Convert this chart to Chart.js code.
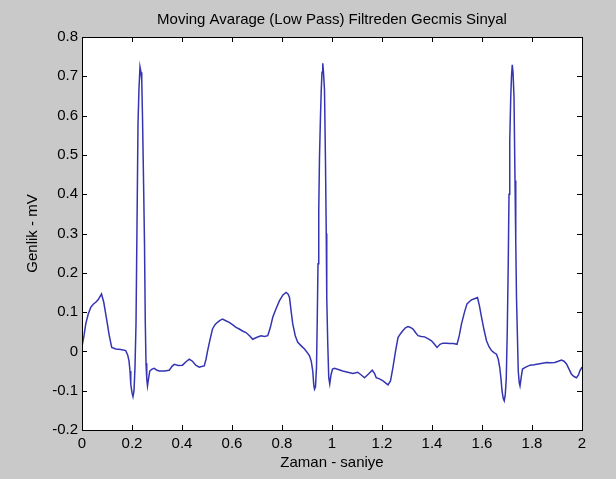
<!DOCTYPE html>
<html lang="tr">
<head>
    <meta charset="UTF-8">
    <title>Moving Avarage (Low Pass) Filtreden Gecmis Sinyal</title>
    <style>
        html, body {
            margin: 0;
            padding: 0;
            background: #c9c9c9;
        }
        #wrap {
            width: 616px;
            height: 479px;
            position: relative;
        }
    </style>
    <script src="https://cdn.jsdelivr.net/npm/chart.js"></script>
</head>
<body>
    <div id="wrap">
        <canvas id="ecgChart"></canvas>
    </div>

    <script>
        // Zaman (saniye)
        const timeValues = [
            0.000, 0.008, 0.015, 0.025, 0.035, 0.045, 0.055, 0.065, 0.078, 0.087,
            0.095, 0.102, 0.108, 0.114, 0.119, 0.135, 0.155, 0.175, 0.183, 0.188,
            0.192, 0.195, 0.200, 0.204, 0.208, 0.212, 0.216, 0.220, 0.224, 0.228,
            0.232, 0.236, 0.239, 0.242, 0.246, 0.250, 0.253, 0.256, 0.259, 0.262,
            0.266, 0.271, 0.280, 0.289, 0.300, 0.309, 0.330, 0.349, 0.360, 0.369,
            0.385, 0.402, 0.415, 0.429, 0.442, 0.455, 0.469, 0.482, 0.489, 0.496,
            0.502, 0.512, 0.522, 0.532, 0.542, 0.552, 0.562, 0.575, 0.589, 0.602,
            0.616, 0.629, 0.642, 0.656, 0.670, 0.683, 0.700, 0.716, 0.730, 0.743,
            0.753, 0.763, 0.777, 0.790, 0.803, 0.816, 0.824, 0.830, 0.837, 0.843,
            0.853, 0.863, 0.877, 0.890, 0.900, 0.910, 0.917, 0.923, 0.927, 0.930,
            0.934, 0.938, 0.941, 0.944, 0.947, 0.950, 0.954, 0.957, 0.960, 0.963,
            0.966, 0.970, 0.974, 0.977, 0.979, 0.983, 0.987, 0.991, 0.996, 1.002,
            1.010, 1.025, 1.043, 1.063, 1.084, 1.103, 1.117, 1.130, 1.145, 1.161,
            1.170, 1.177, 1.190, 1.204, 1.214, 1.224, 1.234, 1.244, 1.254, 1.264,
            1.274, 1.284, 1.294, 1.304, 1.314, 1.324, 1.334, 1.344, 1.357, 1.371,
            1.385, 1.398, 1.410, 1.420, 1.432, 1.444, 1.458, 1.471, 1.486, 1.500,
            1.509, 1.518, 1.530, 1.540, 1.550, 1.558, 1.570, 1.582, 1.590, 1.598,
            1.608, 1.618, 1.628, 1.638, 1.648, 1.658, 1.665, 1.671, 1.676, 1.680,
            1.685, 1.689, 1.693, 1.697, 1.701, 1.705, 1.708, 1.711, 1.715, 1.718,
            1.721, 1.724, 1.728, 1.732, 1.735, 1.738, 1.742, 1.745, 1.749, 1.752,
            1.757, 1.762, 1.775, 1.792, 1.808, 1.825, 1.842, 1.858, 1.875, 1.891,
            1.905, 1.918, 1.928, 1.938, 1.948, 1.958, 1.968, 1.978, 1.986, 1.991,
            2.000
        ];

        // Genlik (mV)
        const signalValues = [
            0.012, 0.040, 0.070, 0.095, 0.112, 0.120, 0.125, 0.132, 0.146, 0.125,
            0.095, 0.068, 0.044, 0.025, 0.010, 0.006, 0.005, 0.002, -0.010, -0.024,
            -0.050, -0.083, -0.105, -0.115, -0.100, -0.040, 0.070, 0.320, 0.580, 0.670,
            0.724, 0.710, 0.690, 0.597, 0.440, 0.274, 0.080, -0.030, -0.070, -0.088,
            -0.070, -0.050, -0.045, -0.043, -0.048, -0.050, -0.050, -0.048, -0.038, -0.033,
            -0.036, -0.035, -0.027, -0.020, -0.025, -0.035, -0.040, -0.038, -0.037, -0.020,
            0.000, 0.030, 0.057, 0.068, 0.074, 0.079, 0.082, 0.078, 0.074, 0.068,
            0.061, 0.057, 0.052, 0.048, 0.040, 0.031, 0.036, 0.040, 0.038, 0.040,
            0.060, 0.087, 0.110, 0.129, 0.143, 0.150, 0.146, 0.137, 0.100, 0.070,
            0.040, 0.023, 0.014, 0.006, -0.002, -0.011, -0.025, -0.050, -0.085, -0.096,
            -0.090, -0.040, 0.080, 0.223, 0.360, 0.495, 0.600, 0.665, 0.710, 0.733,
            0.710, 0.665, 0.478, 0.300, 0.137, 0.020, -0.067, -0.083, -0.060, -0.045,
            -0.043, -0.046, -0.050, -0.053, -0.056, -0.053, -0.060, -0.067, -0.058, -0.048,
            -0.056, -0.067, -0.070, -0.075, -0.080, -0.085, -0.075, -0.040, 0.000, 0.035,
            0.045, 0.053, 0.060, 0.063, 0.061, 0.057, 0.048, 0.040, 0.038, 0.037,
            0.032, 0.027, 0.018, 0.010, 0.018, 0.021, 0.021, 0.020, 0.020, 0.018,
            0.040, 0.070, 0.100, 0.121, 0.127, 0.131, 0.134, 0.137, 0.115, 0.087,
            0.055, 0.027, 0.012, 0.002, -0.003, -0.007, -0.020, -0.041, -0.070, -0.100,
            -0.120, -0.126, -0.110, -0.070, 0.050, 0.223, 0.400, 0.537, 0.648, 0.700,
            0.729, 0.710, 0.648, 0.435, 0.280, 0.137, 0.030, -0.050, -0.080, -0.088,
            -0.065, -0.045, -0.040, -0.035, -0.034, -0.032, -0.030, -0.028, -0.029, -0.028,
            -0.025, -0.022, -0.025, -0.032, -0.045, -0.058, -0.064, -0.067, -0.060, -0.050,
            -0.040
        ];

        const xTickValues = [0, 0.2, 0.4, 0.6, 0.8, 1, 1.2, 1.4, 1.6, 1.8, 2];
        const yTickValues = [-0.2, -0.1, 0, 0.1, 0.2, 0.3, 0.4, 0.5, 0.6, 0.7, 0.8];

        const points = timeValues.map((t, i) => ({ x: t, y: signalValues[i] }));

        const fontFamily = '"Liberation Sans", Arial, Helvetica, sans-serif';

        // MATLAB gibi: kutu cercevesi ve iceri dogru tick cizgileri
        const matlabAxes = {
            id: 'matlabAxes',
            afterDraw(chart) {
                const { ctx, chartArea: a, scales } = chart;
                const len = 5;
                ctx.save();
                ctx.strokeStyle = '#000';
                ctx.lineWidth = 1;
                ctx.beginPath();
                xTickValues.forEach(v => {
                    const px = Math.round(scales.x.getPixelForValue(v)) + 0.5;
                    ctx.moveTo(px, a.bottom);
                    ctx.lineTo(px, a.bottom - len);
                    ctx.moveTo(px, a.top);
                    ctx.lineTo(px, a.top + len);
                });
                yTickValues.forEach(v => {
                    const py = Math.round(scales.y.getPixelForValue(v)) + 0.5;
                    ctx.moveTo(a.left, py);
                    ctx.lineTo(a.left + len, py);
                    ctx.moveTo(a.right, py);
                    ctx.lineTo(a.right - len, py);
                });
                ctx.stroke();
                ctx.strokeRect(Math.round(a.left) + 0.5, Math.round(a.top) + 0.5,
                    Math.round(a.right - a.left), Math.round(a.bottom - a.top));
                ctx.restore();
            }
        };

        const whiteArea = {
            id: 'whiteArea',
            beforeDatasetsDraw(chart) {
                const { ctx, chartArea: a } = chart;
                ctx.save();
                ctx.fillStyle = '#ffffff';
                ctx.fillRect(a.left, a.top, a.right - a.left, a.bottom - a.top);
                ctx.restore();
            }
        };

        new Chart(document.getElementById('ecgChart'), {
            type: 'scatter',
            data: {
                datasets: [{
                    data: points,
                    showLine: true,
                    borderColor: '#3535b2',
                    borderWidth: 1.5,
                    pointRadius: 0,
                    tension: 0,
                    fill: false
                }]
            },
            options: {
                responsive: true,
                maintainAspectRatio: false,
                animation: false,
                layout: {
                    padding: { left: 0, right: 34, top: 0, bottom: 0 }
                },
                plugins: {
                    legend: { display: false },
                    tooltip: { enabled: false },
                    title: {
                        display: true,
                        fullSize: false,
                        text: 'Moving Avarage (Low Pass) Filtreden Gecmis Sinyal',
                        color: '#000',
                        font: { family: fontFamily, size: 15, weight: 'normal', lineHeight: 1.2 },
                        padding: { top: 11, bottom: 8 }
                    }
                },
                scales: {
                    x: {
                        type: 'linear',
                        min: 0,
                        max: 2,
                        afterFit(scale) { scale.height = 49; },
                        afterBuildTicks(scale) {
                            scale.ticks = xTickValues.map(v => ({ value: v }));
                        },
                        grid: { display: false, drawTicks: false },
                        border: { display: false },
                        ticks: {
                            color: '#000',
                            padding: 5,
                            maxRotation: 0,
                            autoSkip: false,
                            font: { family: fontFamily, size: 15 },
                            callback: v => String(Math.round(v * 10) / 10)
                        },
                        title: {
                            display: true,
                            text: 'Zaman - saniye',
                            color: '#000',
                            font: { family: fontFamily, size: 15, lineHeight: 1.2 },
                            padding: { top: 0, bottom: 7 }
                        }
                    },
                    y: {
                        type: 'linear',
                        min: -0.2,
                        max: 0.8,
                        afterFit(scale) { scale.width = 82; },
                        afterBuildTicks(scale) {
                            scale.ticks = yTickValues.map(v => ({ value: v }));
                        },
                        grid: { display: false, drawTicks: false },
                        border: { display: false },
                        ticks: {
                            color: '#000',
                            padding: 4,
                            autoSkip: false,
                            font: { family: fontFamily, size: 15 },
                            callback: v => String(Math.round(v * 10) / 10)
                        },
                        title: {
                            display: true,
                            text: 'Genlik - mV',
                            color: '#000',
                            font: { family: fontFamily, size: 15, lineHeight: 1.2 },
                            padding: { top: 24, bottom: 0 }
                        }
                    }
                }
            },
            plugins: [whiteArea, matlabAxes]
        });
    </script>
</body>
</html>
